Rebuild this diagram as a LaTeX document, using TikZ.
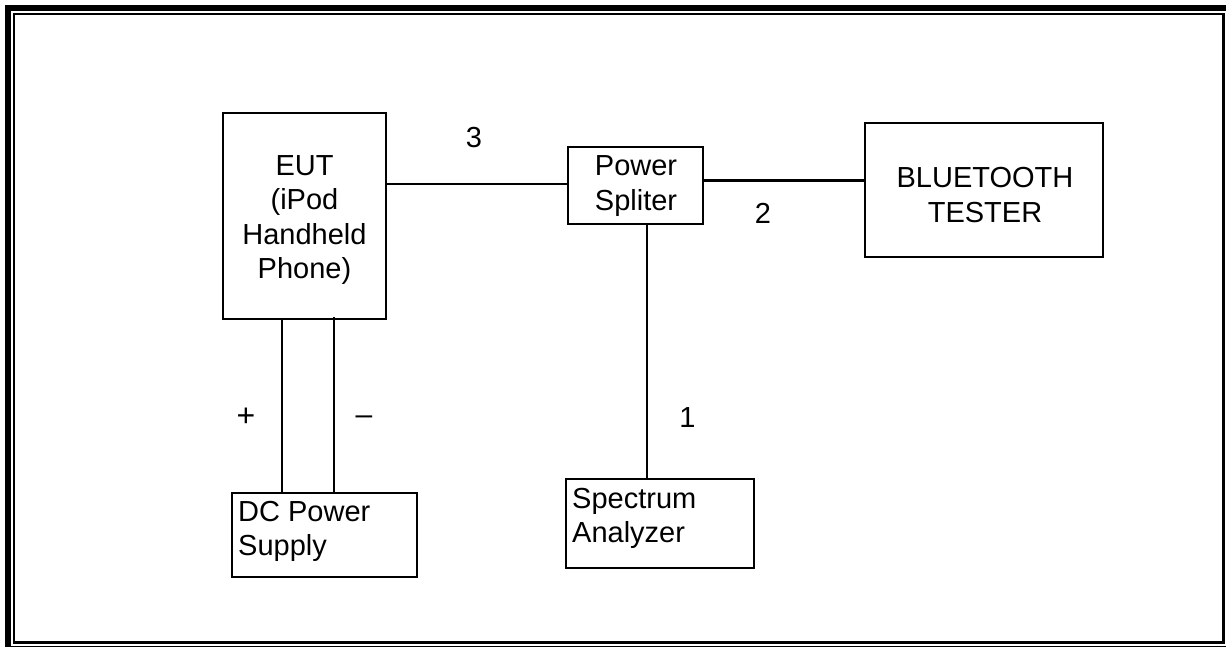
\documentclass[tikz,border=0pt]{standalone}
\usepackage{fontspec}
\setmainfont{Liberation Sans}
\begin{document}
\begin{tikzpicture}[x=1pt,y=-1pt,
  box/.style={draw,line width=2.2pt,inner sep=0pt,minimum width=#1},
  txt/.style={inner sep=0pt,font=\fontsize{29}{34.5}\selectfont},
  wire/.style={line width=2.2pt}]
\useasboundingbox (0,0) rectangle (1226,647);
% frame
\draw[line width=6pt] (8,8) rectangle (1229,649);
\draw[line width=2.5pt] (14,14) rectangle (1223.5,642.5);
% boxes
\node[box=163pt,minimum height=206pt] (eut) at (304.5,216) {};
\node[box=135pt,minimum height=77pt] (ps) at (635.5,185.5) {};
\node[box=238.3pt,minimum height=133.4pt] (bt) at (984.2,190) {};
\node[box=188.3pt,minimum height=89.3pt] (sa) at (660.2,523.7) {};
\node[box=184.4pt,minimum height=84pt] (dc) at (324.5,534.7) {};
% texts
\node[txt,align=center] (eutt) at (304.5,220) {EUT\\(iPod\\Handheld\\Phone)};
\node[txt,align=center] (pst) at (636,186) {Power\\Spliter};
\node[txt,align=center] (btt) at (985,195) {BLUETOOTH\\TESTER};
\node[txt,align=left,anchor=west] (sat) at (572,518.3) {Spectrum\\Analyzer};
\node[txt,align=left,anchor=west] (dct) at (238,531.3) {DC Power\\Supply};
\node[txt,anchor=base] (n3) at (474,148) {3};
\node[txt,anchor=base] (n2) at (763,223) {2};
\node[txt,anchor=base] (n1) at (687.5,427) {1};
\node[txt,anchor=base,font=\fontsize{32}{34}\selectfont] (plus) at (246,426.8) {+};
\node[txt,anchor=base,font=\fontsize{30}{34}\selectfont] (minus) at (364,424.5) {–};
% connectors
\draw[wire] (eut.east |- 0,184.3) -- (ps.west |- 0,184.3);
\draw[wire] (ps.east |- 0,180.5) -- (bt.west |- 0,180.5);
\draw[wire] (ps.south -| 646.7,0) -- (sa.north -| 646.7,0);
\draw[wire] (eut.south -| 282.3,0) -- (dc.north -| 282.3,0);
\draw[wire] ([yshift=3pt]eut.south -| 334,0) -- ([yshift=-2.5pt]dc.north -| 334,0);
\end{tikzpicture}
\end{document}
